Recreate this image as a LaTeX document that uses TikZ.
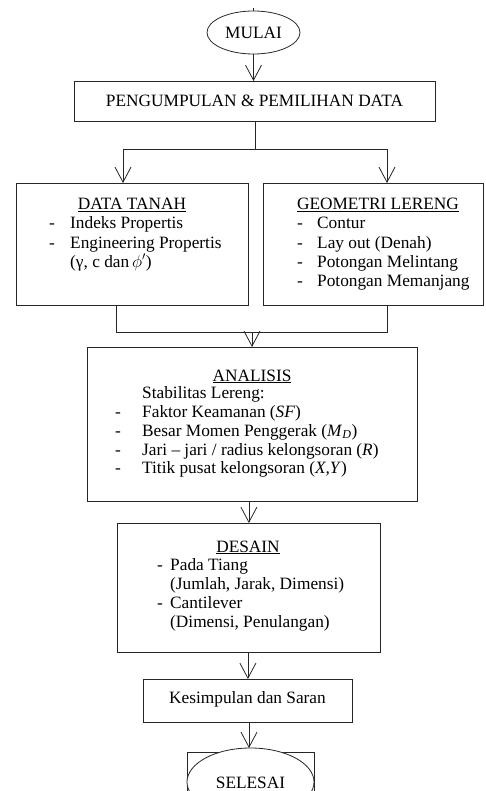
\documentclass[tikz,border=0pt]{standalone}
\usepackage{fontspec}
\setmainfont{Liberation Serif}
\usetikzlibrary{shapes.geometric,arrows.meta}
\begin{document}
\begin{tikzpicture}[x=1pt,y=-1pt,
  every node/.style={font=\fontsize{17.3}{19.3}\selectfont, inner sep=0pt},
  ln/.style={line width=0.8pt, draw=black!85},
  arr/.style={ln, -{Straight Barb[length=15pt,width=16pt,line width=0.8pt]}},
  boxnode/.style={ln, rectangle, anchor=north west},
  txt/.style={anchor=base west},
  ttl/.style={anchor=base}]
\useasboundingbox (0,0) rectangle (485,791);
\clip (0,0) rectangle (485,791);

% start
\node[ln, ellipse, minimum width=93pt, minimum height=43pt] (mulai) at (253.5,32.5) {MULAI};
\coordinate (mtop) at (253.5,8);
\draw[ln] (mulai.north) -- (mtop);

% collection box
\node[boxnode, minimum width=361pt, minimum height=40pt] (kumpul) at (74,81) {};
\node[anchor=base] (kumpult) at (254.5,107) {PENGUMPULAN \& PEMILIHAN DATA};

% data boxes
\node[boxnode, minimum width=232pt, minimum height=122pt] (tanah) at (16,183) {};
\node[boxnode, minimum width=220pt, minimum height=122pt] (geom) at (263,183) {};

% analysis box
\node[boxnode, minimum width=330pt, minimum height=154pt] (analisis) at (87,347) {};

% design box
\node[boxnode, minimum width=263pt, minimum height=129pt] (desain) at (117,523) {};

% conclusion box
\node[boxnode, minimum width=209pt, minimum height=43pt] (simpul) at (143,679) {};
\node[anchor=base] (simpult) at (247.5,703) {Kesimpulan dan Saran};

% end
\node[boxnode, minimum width=127pt, minimum height=60pt] (selbox) at (187,752) {};
\node[ln, ellipse, minimum width=127pt, minimum height=68pt, fill=white] (selesai) at (250.5,782) {};
\node[anchor=base] (selesait) at (250.5,788) {SELESAI};

% texts: DATA TANAH
\node[ttl] (tt0) at (132,210) {\underline{DATA TANAH}};
\node[txt] (td1) at (49,229) {-};
\node[txt] (tt1) at (70,229) {Indeks Propertis};
\node[txt] (td2) at (49,248) {-};
\node[txt] (tt2) at (70,248) {Engineering Propertis};
\node[txt] (tt3) at (70,267) {(γ, c dan\smash{$\,\phi'$})};

% texts: GEOMETRI
\node[ttl] (tg0) at (378,210) {\underline{GEOMETRI LERENG}};
\node[txt] (gd1) at (297,229) {-};
\node[txt] (tg1) at (317,229) {Contur};
\node[txt] (gd2) at (297,249) {-};
\node[txt] (tg2) at (317,249) {Lay out (Denah)};
\node[txt] (gd3) at (297,268) {-};
\node[txt] (tg3) at (317,268) {Potongan Melintang};
\node[txt] (gd4) at (297,287) {-};
\node[txt] (tg4) at (317,287) {Potongan Memanjang};

% texts: ANALISIS
\node[ttl] (ta0) at (252,381) {\underline{ANALISIS}};
\node[txt] (ta1) at (142,398) {Stabilitas Lereng:};
\node[txt] (ad2) at (115,417) {-};
\node[txt] (ta2) at (142,417) {Faktor Keamanan (\textit{SF})};
\node[txt] (ad3) at (115,436) {-};
\node[txt] (ta3) at (142,436) {Besar Momen Penggerak (\textit{M}\textsubscript{\textit{D}})};
\node[txt] (ad4) at (115,455) {-};
\node[txt] (ta4) at (142,455) {Jari – jari / radius kelongsoran (\textit{R})};
\node[txt] (ad5) at (115,473) {-};
\node[txt] (ta5) at (142,473) {Titik pusat kelongsoran (\textit{X,Y})};

% texts: DESAIN
\node[ttl] (te0) at (248,552) {\underline{DESAIN}};
\node[txt] (ed1) at (157,570) {-};
\node[txt] (te1) at (170,570) {Pada Tiang};
\node[txt] (te2) at (170,589) {(Jumlah, Jarak, Dimensi)};
\node[txt] (ed3) at (157,608) {-};
\node[txt] (te3) at (170,608) {Cantilever};
\node[txt] (te4) at (170,627) {(Dimensi, Penulangan)};

% connectors
\draw[arr] (mulai.south) -- (mulai.south |- kumpul.north);
\coordinate (sl) at (123,149);
\coordinate (sr) at (387,149);
\draw[ln] (kumpul.south) -- (kumpul.south |- sl);
\draw[ln] (sl) -- (sr);
\draw[arr] (sl) -- (sl |- tanah.north);
\draw[arr] (sr) -- (sr |- geom.north);

\coordinate (jl) at (116,332);
\coordinate (jr) at (387,332);
\coordinate (jm) at (252,332);
\draw[ln] (jl |- tanah.south) -- (jl) -- (jr) -- (jr |- geom.south);
\draw[arr] (jm) -- (jm |- analisis.north);

\draw[arr] (desain.north |- analisis.south) -- (desain.north);
\draw[arr] (simpul.north |- desain.south) -- (simpul.north);
\coordinate (send) at (249,748);
\draw[arr] (simpul.south -| send) -- (send);
\end{tikzpicture}
\end{document}
